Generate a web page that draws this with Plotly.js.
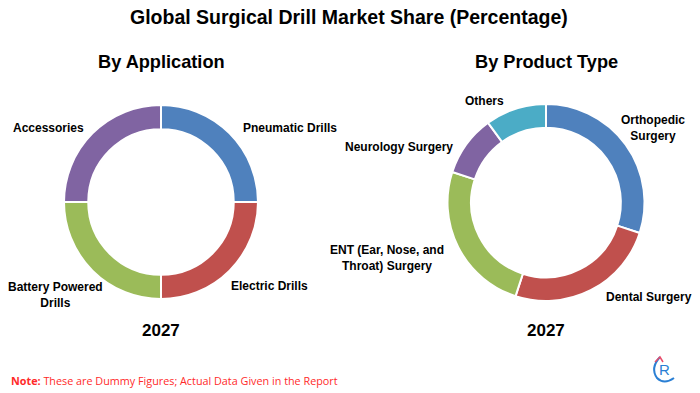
<!DOCTYPE html>
<html>
<head>
<meta charset="utf-8">
<script src="https://cdn.plot.ly/plotly-3.0.1.min.js"></script>
<style>html,body{margin:0;padding:0;background:#fff;}#chart{width:700px;height:393px;}</style>
</head>
<body>
<div id="chart"></div>
<script>
const appLabels = ["Pneumatic Drills", "Electric Drills", "Battery Powered Drills", "Accessories"];
const appValues = [25, 25, 25, 25];
const prodLabels = ["Orthopedic Surgery", "Dental Surgery", "ENT (Ear, Nose, and Throat) Surgery", "Neurology Surgery", "Others"];
const prodValues = [30, 25, 25, 10, 10];
const appColors = ["#4f81bd", "#c0504d", "#9bbb59", "#8064a2"];
const prodColors = ["#4f81bd", "#c0504d", "#9bbb59", "#8064a2", "#4bacc6"];

const F = "Liberation Sans, Arial, sans-serif";
const W = 700, H = 393;
const px = x => x / W, py = y => 1 - y / H;

const data = [
  {type: "pie", labels: appLabels, values: appValues, hole: 0.75, sort: false,
   direction: "clockwise", rotation: 0, textinfo: "none", hoverinfo: "label+percent",
   marker: {colors: appColors, line: {color: "#fff", width: 2}},
   domain: {x: [px(64), px(258)], y: [py(299), py(105)]}},
  {type: "pie", labels: prodLabels, values: prodValues, hole: 0.76, sort: false,
   direction: "clockwise", rotation: 0, textinfo: "none", hoverinfo: "label+percent",
   marker: {colors: prodColors, line: {color: "#fff", width: 2}},
   domain: {x: [px(447), px(645)], y: [py(301), py(104)]}}
];

function ann(text, x, y, size, opts) {
  return Object.assign({text: text, x: px(x), y: py(y), xref: "paper", yref: "paper",
    showarrow: false, xanchor: "center", yanchor: "middle",
    font: {family: F, size: size, color: "#000", weight: "bold"}}, opts || {});
}

const annotations = [
  ann("<b>Global Surgical Drill Market Share (Percentage)</b>", 349, 17, 19.5),
  ann("<b>By Application</b>", 161, 62, 18.2),
  ann("<b>By Product Type</b>", 546, 62, 18.2),
  ann("<b>2027</b>", 161, 330, 17),
  ann("<b>2027</b>", 546, 330, 17),
  ann("<b>Pneumatic Drills</b>", 290, 128, 12),
  ann("<b>Electric Drills</b>", 269, 286, 12),
  ann("<b>Battery Powered<br>Drills</b>", 55, 295, 12),
  ann("<b>Accessories</b>", 48, 128, 12),
  ann("<b>Others</b>", 484, 101, 12),
  ann("<b>Orthopedic<br>Surgery</b>", 653, 128, 12),
  ann("<b>Neurology Surgery</b>", 399, 147, 12),
  ann("<b>ENT (Ear, Nose, and<br>Throat) Surgery</b>", 387, 258, 12),
  ann("<b>Dental Surgery</b>", 649, 297, 12),
  {text: "<b>Note:</b> These are Dummy Figures; Actual Data Given in the Report",
   x: px(9), y: py(380), xref: "paper", yref: "paper", showarrow: false,
   xanchor: "left", yanchor: "middle",
   font: {family: "Open Sans, sans-serif", size: 10.8, color: "#ff2a2a"}},
  {text: "R", x: px(664), y: py(369), xref: "paper", yref: "paper", showarrow: false,
   xanchor: "center", yanchor: "middle",
   font: {family: F, size: 15, color: "#2a7fd4"}}
];

const shapes = [
  {type: "path", xref: "paper", yref: "paper",
   path: "M " + px(660) + " " + py(357) + " Q " + px(650) + " " + py(368) + " " + px(657) + " " + py(378) + " Q " + px(664) + " " + py(385) + " " + px(674) + " " + py(378),
   line: {color: "#2a7fd4", width: 2}},
  {type: "path", xref: "paper", yref: "paper",
   path: "M " + px(655) + " " + py(362) + " L " + px(660) + " " + py(357) + " L " + px(663) + " " + py(362),
   line: {color: "#e84c6a", width: 1.5}}
];

const layout = {
  width: W, height: H, margin: {l: 0, r: 0, t: 0, b: 0},
  paper_bgcolor: "#fff", plot_bgcolor: "#fff", showlegend: false,
  annotations: annotations, shapes: shapes
};
Plotly.newPlot("chart", data, layout, {displayModeBar: false, staticPlot: true});
</script>
</body>
</html>
